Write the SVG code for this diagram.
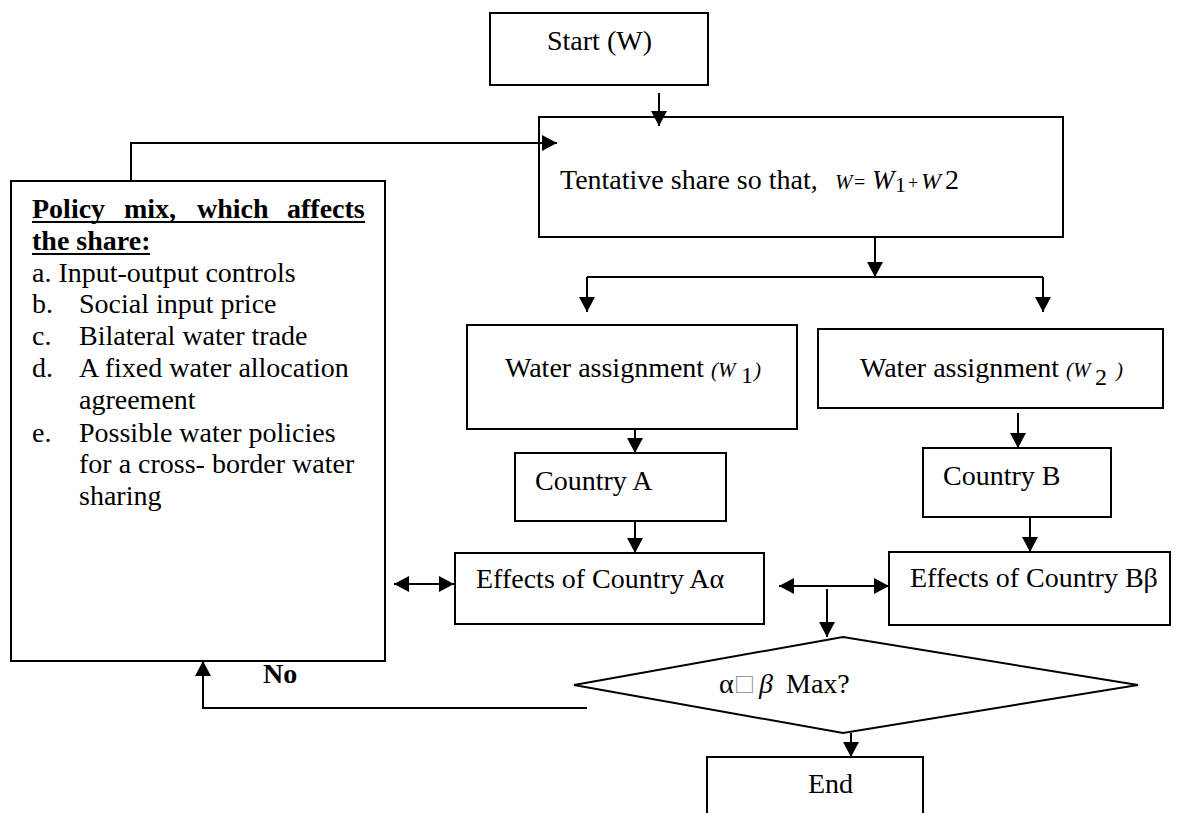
<svg xmlns="http://www.w3.org/2000/svg" width="1187" height="813" viewBox="0 0 1187 813">
<style>
.box{fill:#fff;stroke:#000;stroke-width:2}
.t{font-family:"Liberation Serif","Times New Roman",serif;font-size:28px;fill:#000}
.b{font-weight:bold}
.i{font-style:italic}
.c{fill:none;stroke:#000;stroke-width:2}
</style>
<defs>
<marker id="ah" viewBox="0 0 15 16" markerWidth="15" markerHeight="16" refX="15" refY="8" orient="auto-start-reverse" markerUnits="userSpaceOnUse">
<path d="M0,0 L15,8 L0,16 Z" fill="#000"/>
</marker>
</defs>
<rect width="1187" height="813" fill="#fff"/>

<g id="start">
<rect class="box" x="490" y="13" width="218" height="72"/>
<text class="t" x="547" y="50">Start (W)</text>
</g>

<g id="tentative">
<rect class="box" x="539" y="117" width="524" height="120"/>
<text class="t" x="560" y="189">Tentative share so that,<tspan x="835" font-style="italic" font-size="21">W</tspan><tspan x="854" font-size="20">=</tspan><tspan x="872" font-style="italic" font-size="27">W</tspan><tspan x="895" dy="3" font-size="22">1</tspan><tspan x="908" dy="-3" font-size="18">+</tspan><tspan x="921" font-style="italic" font-size="24">W</tspan><tspan x="945" font-size="28">2</tspan></text>
</g>

<g id="policy">
<rect class="box" x="11" y="181" width="374" height="480"/>
<text class="t b" x="32" y="218">Policy</text>
<text class="t b" x="124" y="218">mix,</text>
<text class="t b" x="197" y="218">which</text>
<text class="t b" x="287" y="218">affects</text>
<line x1="32" y1="222" x2="365" y2="222" stroke="#000" stroke-width="2"/>
<text class="t b" x="32" y="250">the share:</text>
<line x1="32" y1="254" x2="150" y2="254" stroke="#000" stroke-width="2"/>
<text class="t" x="32" y="282">a. Input-output controls</text>
<text class="t" x="32" y="313">b.</text>
<text class="t" x="79" y="313">Social input price</text>
<text class="t" x="32" y="345">c.</text>
<text class="t" x="79" y="345">Bilateral water trade</text>
<text class="t" x="32" y="377">d.</text>
<text class="t" x="79" y="377">A fixed water allocation</text>
<text class="t" x="79" y="409">agreement</text>
<text class="t" x="32" y="442">e.</text>
<text class="t" x="79" y="442">Possible water policies</text>
<text class="t" x="79" y="473">for a cross- border water</text>
<text class="t" x="79" y="505">sharing</text>
</g>

<g id="water1">
<rect class="box" x="467" y="325" width="330" height="104"/>
<text class="t" x="505" y="377">Water assignment<tspan x="711" font-style="italic" font-size="21">(W</tspan><tspan x="741" dy="6" font-size="24">1</tspan><tspan x="754" dy="-6" font-style="italic" font-size="21">)</tspan></text>
</g>

<g id="water2">
<rect class="box" x="818" y="329" width="345" height="79"/>
<text class="t" x="860" y="377">Water assignment<tspan x="1066" font-style="italic" font-size="21">(W</tspan><tspan x="1095" dy="8" font-size="24">2</tspan><tspan x="1116" dy="-8" font-style="italic" font-size="21">)</tspan></text>
</g>

<g id="countryA">
<rect class="box" x="515" y="453" width="211" height="68"/>
<text class="t" x="535" y="490">Country A</text>
</g>

<g id="countryB">
<rect class="box" x="923" y="448" width="188" height="69"/>
<text class="t" x="943" y="485">Country B</text>
</g>

<g id="effectsA">
<rect class="box" x="455" y="553" width="309" height="71"/>
<text class="t" x="476" y="588">Effects of Country Aα</text>
</g>

<g id="effectsB">
<rect class="box" x="889" y="552" width="281" height="73"/>
<text class="t" x="910" y="587">Effects of Country Bβ</text>
</g>

<g id="decision">
<polygon class="box" points="574,685 843,637 1138,685 843,733"/>
<text class="t" x="719" y="693">α<tspan x="736" fill="#999">□</tspan><tspan x="759" font-style="italic">β</tspan><tspan x="786">Max?</tspan></text>
</g>

<g id="end">
<rect class="box" x="707" y="757" width="216" height="80"/>
<text class="t" x="808" y="793">End</text>
</g>

<g id="no-label">
<text class="t b" x="263" y="683">No</text>
</g>

<g id="connectors">
<path class="c" d="M131,181 V143 H557" marker-end="url(#ah)"/>
<path class="c" d="M659,93 V126" marker-end="url(#ah)"/>
<path class="c" d="M875,237 V277" marker-end="url(#ah)"/>
<path class="c" d="M587,277 H1043"/>
<path class="c" d="M587,277 V312" marker-end="url(#ah)"/>
<path class="c" d="M1043,277 V312" marker-end="url(#ah)"/>
<path class="c" d="M635,429 V453" marker-end="url(#ah)"/>
<path class="c" d="M1018,413 V448" marker-end="url(#ah)"/>
<path class="c" d="M635,521 V553" marker-end="url(#ah)"/>
<path class="c" d="M1030,517 V552" marker-end="url(#ah)"/>
<path class="c" d="M394,584 H454" marker-start="url(#ah)" marker-end="url(#ah)"/>
<path class="c" d="M779,586 H889" marker-start="url(#ah)" marker-end="url(#ah)"/>
<path class="c" d="M827,589 V637" marker-end="url(#ah)"/>
<path class="c" d="M851,733 V757" marker-end="url(#ah)"/>
<path class="c" d="M587,708 H203 V661" marker-end="url(#ah)"/>
</g>
</svg>
